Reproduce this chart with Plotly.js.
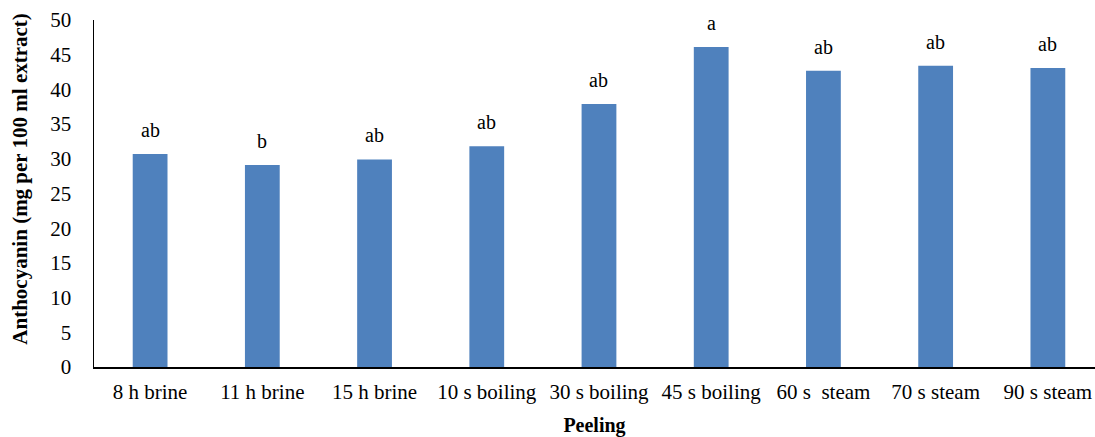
<!DOCTYPE html>
<html>
<head>
<meta charset="utf-8">
<script src="https://cdn.plot.ly/plotly-3.0.1.min.js"></script>
<style>
  html, body { margin: 0; padding: 0; background: #fff; overflow: hidden; }
  #chart { width: 1095px; height: 437px; }
</style>
</head>
<body>
<div id="chart"></div>
<script>
const categories = ["8 h brine", "11 h brine", "15 h brine", "10 s boiling", "30 s boiling", "45 s boiling", "60 s  steam", "70 s steam", "90 s steam"];
const anthocyanin = [30.7, 29.1, 29.9, 31.8, 37.9, 46.1, 42.7, 43.4, 43.1];
const letters = ["ab", "b", "ab", "ab", "ab", "a", "ab", "ab", "ab"];
const yTickValues = [0, 5, 10, 15, 20, 25, 30, 35, 40, 45, 50];

const serif = "Liberation Serif";

const trace = {
  type: "bar",
  x: categories.map((c, i) => i),
  y: anthocyanin,
  marker: { color: "#4F81BD", line: { width: 0 } },
  hoverinfo: "skip"
};

const letterAnnotations = letters.map((t, i) => ({
  x: i, y: anthocyanin[i], xref: "x", yref: "y",
  text: t, showarrow: false, yanchor: "bottom", yshift: 11,
  font: { family: serif, size: 20, color: "#000" }
}));

const layout = {
  width: 1095, height: 437,
  margin: { l: 94, r: 0, t: 20, b: 70, pad: 0 },
  paper_bgcolor: "#fff", plot_bgcolor: "#fff",
  showlegend: false,
  bargap: 0.69,
  font: { family: serif, color: "#000" },
  xaxis: {
    tickmode: "array",
    tickvals: categories.map((c, i) => i),
    ticktext: categories,
    range: [-0.5, 8.42],
    showline: true, linecolor: "#000", linewidth: 1.5,
    showgrid: false, zeroline: false, ticks: "",
    tickfont: { family: serif, size: 21, color: "#000" },
    ticklabelstandoff: 5,
    title: { text: "<b>Peeling</b>", font: { family: serif, size: 20, color: "#000" }, standoff: 15 },
    fixedrange: true
  },
  yaxis: {
    range: [0, 50],
    tickmode: "array",
    tickvals: yTickValues,
    ticktext: yTickValues.map(String),
    showline: true, linecolor: "#000", linewidth: 1.5,
    showgrid: false, zeroline: false, ticks: "",
    tickfont: { family: serif, size: 21, color: "#000" },
    ticklabelstandoff: 17,
    fixedrange: true
  },
  annotations: letterAnnotations.concat([{
    xref: "paper", yref: "paper",
    x: -0.0739, y: 0.54,
    xanchor: "center", yanchor: "middle",
    text: "<b>Anthocyanin (mg per 100 ml extract)</b>",
    textangle: -90, showarrow: false,
    font: { family: serif, size: 21, color: "#000" }
  }])
};

Plotly.newPlot("chart", [trace], layout, { displayModeBar: false, staticPlot: true });
</script>
</body>
</html>
